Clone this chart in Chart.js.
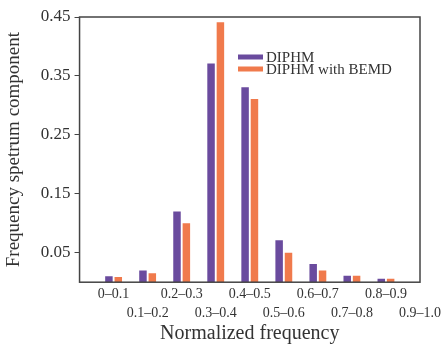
<!DOCTYPE html>
<html>
<head>
    <title>Frequency spectrum</title>
    <style>
        body { margin: 0; background: #fff; }
        #box { width: 447px; height: 344px; }
    </style>
    <script src="https://cdn.jsdelivr.net/npm/chart.js"></script>
</head>
<body>
    <div id="box"><canvas id="myChart"></canvas></div>

    <script>
        // data
        let categories = ['0–0.1', '0.1–0.2', '0.2–0.3', '0.3–0.4', '0.4–0.5',
                          '0.5–0.6', '0.6–0.7', '0.7–0.8', '0.8–0.9', '0.9–1.0'];
        let diphm = [0.010, 0.020, 0.120, 0.371, 0.331, 0.071, 0.031, 0.011, 0.006, null];
        let diphmBemd = [0.009, 0.015, 0.100, 0.441, 0.311, 0.050, 0.020, 0.011, 0.006, null];
        let yTicks = [0.05, 0.15, 0.25, 0.35, 0.45];

        let purple = '#6a4b9e';
        let orange = '#f07a4c';
        let ink = '#333333';
        let serif = "'Liberation Serif', 'Times New Roman', serif";

        // blank slot in front so the groups sit between grid positions like the original
        let labels = [''].concat(categories);

        // frame around the plot area + legend drawn inside it
        let framePlugin = {
            id: 'frame',
            afterDraw(chart) {
                let a = chart.chartArea;
                let c = chart.ctx;
                c.save();
                c.strokeStyle = '#444';
                c.lineWidth = 1.5;
                c.strokeRect(a.left, a.top, a.right - a.left, a.bottom - a.top);

                c.font = '15px ' + serif;
                c.textBaseline = 'middle';
                chart.data.datasets.forEach(function(ds, i) {
                    let y = 57 + i * 12;
                    c.fillStyle = ds.backgroundColor;
                    c.fillRect(238, y - 2.5, 25, 5);
                    c.fillStyle = ink;
                    c.fillText(ds.label, 266, y + 1);
                });
                c.restore();
            }
        };

        let ctx = document.getElementById('myChart').getContext('2d');
        let myChart = new Chart(ctx, {
            type: 'bar',
            data: {
                labels: labels,
                datasets: [{
                    label: 'DIPHM',
                    data: [null].concat(diphm),
                    backgroundColor: purple
                }, {
                    label: 'DIPHM with BEMD',
                    data: [null].concat(diphmBemd),
                    backgroundColor: orange
                }]
            },
            options: {
                responsive: true,
                maintainAspectRatio: false,
                animation: false,
                categoryPercentage: 0.55,
                barPercentage: 0.8,
                layout: { padding: { top: 17, right: 27, left: 3, bottom: 2 } },
                plugins: {
                    legend: { display: false },
                    tooltip: { enabled: false }
                },
                scales: {
                    x: {
                        offset: false,
                        grid: { display: false, drawTicks: false },
                        border: { display: false },
                        ticks: {
                            autoSkip: false,
                            maxRotation: 0,
                            padding: 3,
                            color: ink,
                            font: { family: serif, size: 14, lineHeight: 1.35 },
                            callback: function(v, i) {
                                if (i == 0) return '';
                                let t = labels[i];
                                return (i % 2 == 1) ? [t, ''] : ['', t];
                            }
                        },
                        title: {
                            display: true,
                            text: 'Normalized frequency',
                            color: ink,
                            padding: { top: 0, bottom: 0 },
                            font: { family: serif, size: 20, lineHeight: 0.8 }
                        }
                    },
                    y: {
                        min: 0,
                        max: 0.45,
                        afterBuildTicks: function(axis) {
                            axis.ticks = yTicks.map(function(v) { return { value: v }; });
                        },
                        grid: {
                            drawOnChartArea: false,
                            tickLength: 5,
                            color: '#444'
                        },
                        border: { display: false },
                        ticks: {
                            padding: 4,
                            color: ink,
                            font: { family: serif, size: 17 },
                            callback: function(v) { return v.toFixed(2); }
                        },
                        title: {
                            display: true,
                            text: 'Frequency spetrum component',
                            color: ink,
                            padding: { top: 0, bottom: 11 },
                            font: { family: serif, size: 19 }
                        }
                    }
                }
            },
            plugins: [framePlugin]
        });
    </script>
</body>
</html>
